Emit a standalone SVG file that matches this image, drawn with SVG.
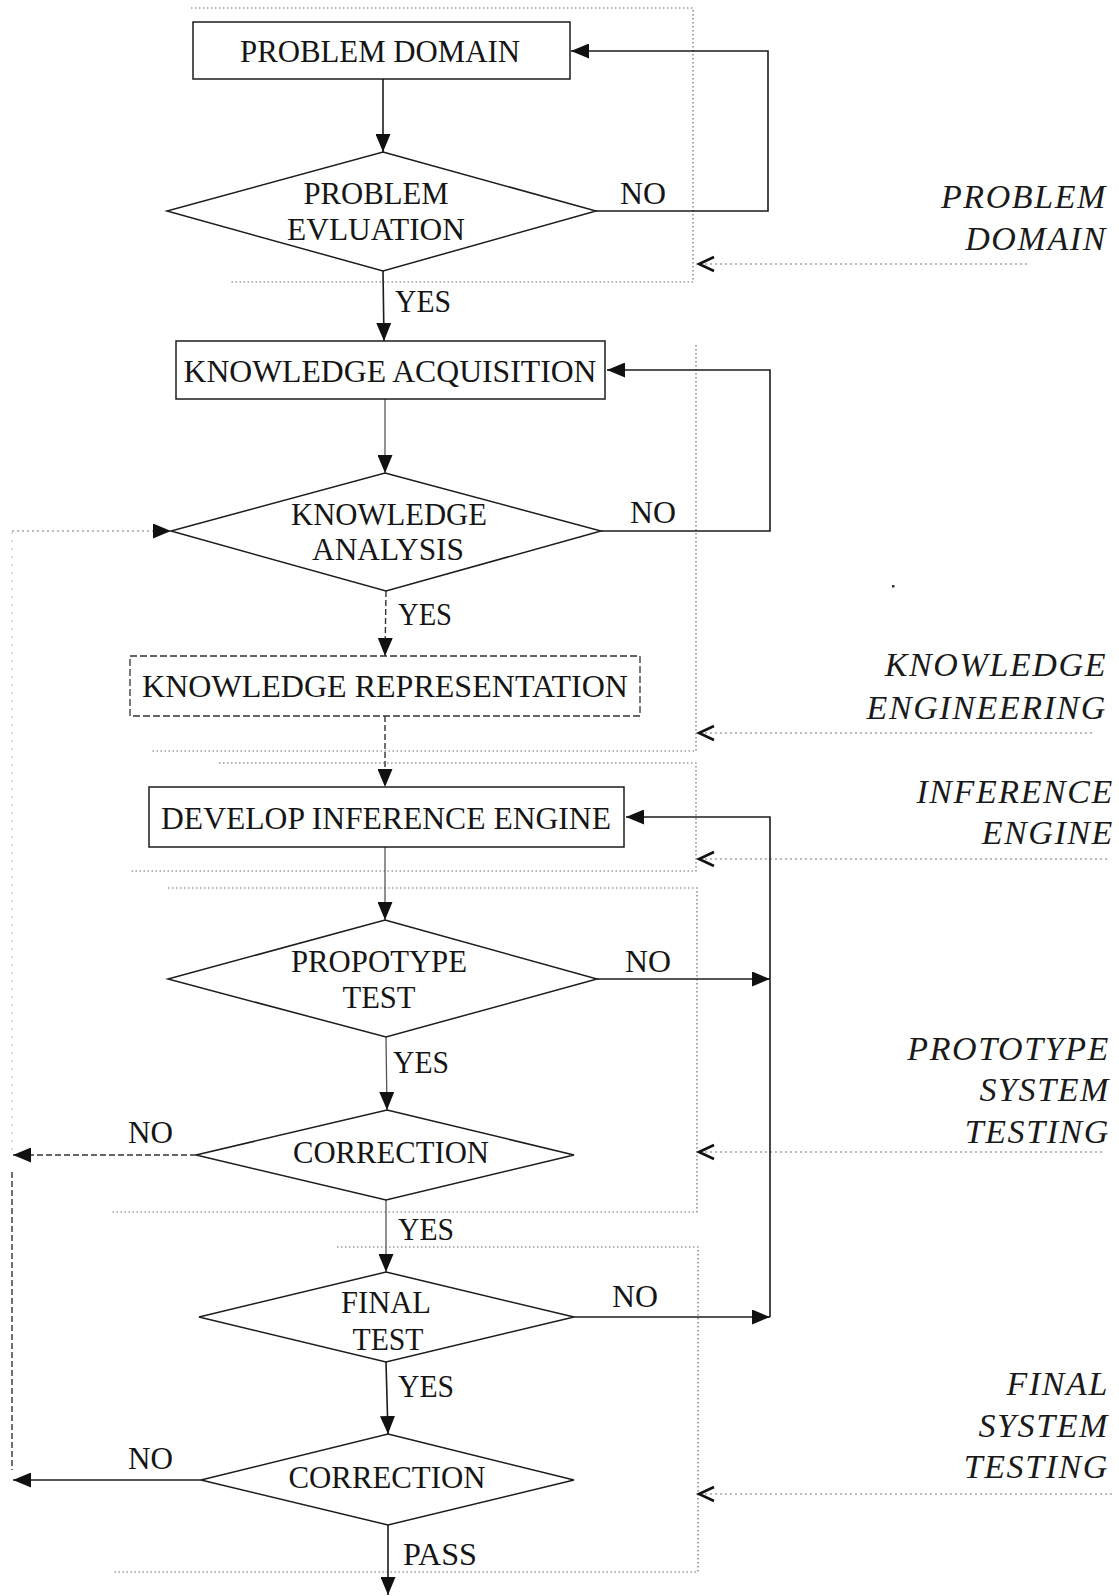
<svg xmlns="http://www.w3.org/2000/svg" width="1119" height="1596" viewBox="0 0 1119 1596">
  <style>
    .lbl { font-family: "Liberation Serif", "Times New Roman", serif; font-size: 32px; fill: #151515; }
    .mid { text-anchor: middle; }
    .stage { font-family: "Liberation Serif", "Times New Roman", serif; font-size: 34px; font-style: italic; fill: #1a1a1a; text-anchor: end; letter-spacing: 1.6px; }
    .shape { fill: #fff; stroke: #1c1c1c; stroke-width: 1.5; }
    .shape-dash { fill: #fff; stroke: #333; stroke-width: 1.3; stroke-dasharray: 7 3; }
    .line { fill: none; stroke: #1c1c1c; stroke-width: 1.6; }
    .line-light { fill: none; stroke: #555; stroke-width: 1.3; }
    .line-dash { fill: none; stroke: #333; stroke-width: 1.4; stroke-dasharray: 6 3; }
    .border { fill: none; stroke: #6a6a6a; stroke-width: 1.2; stroke-dasharray: 1.5 2.5; }
    .pointer { fill: none; stroke: #777; stroke-width: 1.2; stroke-dasharray: 2 3; }
    .faint { fill: none; stroke: #bbb; stroke-width: 1; stroke-dasharray: 2 6; }
    .chev { fill: none; stroke: #111; stroke-width: 2.6; stroke-linejoin: miter; }
  </style>
  <defs>
    <marker id="arrow" markerUnits="userSpaceOnUse" markerWidth="18" markerHeight="15" refX="18" refY="7.5" orient="auto">
      <path d="M0,0 L18,7.5 L0,15 z" fill="#111"/>
    </marker>
  </defs>

  <rect width="1119" height="1596" fill="#fff"/>

  <!-- stage borders (dotted) -->
  <g id="stage-borders">
    <polyline class="border" points="191,8 693,8 693,282 230,282"/>
    <polyline class="border" points="696,345 696,751 151,751"/>
    <polyline class="border" points="219,763 696,763 696,871 130,871"/>
    <polyline class="border" points="168,888 697,888 697,1212 112,1212"/>
    <polyline class="border" points="337,1247 698,1247 698,1572 112,1572"/>
  </g>

  <!-- stage pointers from the right-hand captions -->
  <g id="stage-pointers">
    <line class="pointer" x1="700" y1="264" x2="1030" y2="264"/>
    <polyline class="chev" points="714,257 699,264 714,271"/>
    <line class="pointer" x1="700" y1="733" x2="1093" y2="733"/>
    <polyline class="chev" points="714,726 699,733 714,740"/>
    <line class="pointer" x1="700" y1="859" x2="1107" y2="859"/>
    <polyline class="chev" points="714,852 699,859 714,866"/>
    <line class="pointer" x1="700" y1="1152" x2="1103" y2="1152"/>
    <polyline class="chev" points="714,1145 699,1152 714,1159"/>
    <line class="pointer" x1="700" y1="1494" x2="1112" y2="1494"/>
    <polyline class="chev" points="714,1487 699,1494 714,1501"/>
  </g>

  <!-- connectors -->
  <g id="connectors">
    <line class="line" x1="383" y1="79" x2="383" y2="152" marker-end="url(#arrow)"/>
    <polyline class="line" points="596,211 768,211 768,51 571,51" marker-end="url(#arrow)"/>
    <line class="line" x1="383" y1="271" x2="384" y2="341" marker-end="url(#arrow)"/>
    <line class="line-light" x1="385" y1="399" x2="385" y2="473" marker-end="url(#arrow)"/>
    <polyline class="line" points="601,531 770,531 770,370 607,370" marker-end="url(#arrow)"/>
    <line class="faint" x1="12" y1="1150" x2="12" y2="531"/>
    <line class="pointer" x1="12" y1="531" x2="171" y2="531" marker-end="url(#arrow)"/>
    <line class="line-dash" x1="12" y1="1172" x2="12" y2="1470" stroke="#444"/>
    <line class="line-dash" x1="386" y1="591" x2="385" y2="656" marker-end="url(#arrow)"/>
    <line class="line-dash" x1="385" y1="716" x2="385" y2="787" marker-end="url(#arrow)"/>
    <line class="line-light" x1="385" y1="847" x2="385" y2="920" marker-end="url(#arrow)"/>
    <line class="line" x1="597" y1="979" x2="770" y2="979" marker-end="url(#arrow)"/>
    <polyline class="line" points="770,1317 770,817 626,817" marker-end="url(#arrow)"/>
    <line class="line-light" x1="386" y1="1037" x2="387" y2="1110" marker-end="url(#arrow)"/>
    <line class="line-dash" x1="196" y1="1155" x2="13" y2="1155" marker-end="url(#arrow)"/>
    <line class="line-light" x1="386" y1="1200" x2="386" y2="1272" marker-end="url(#arrow)"/>
    <line class="line" x1="574" y1="1317" x2="770" y2="1317" marker-end="url(#arrow)"/>
    <line class="line" x1="386" y1="1362" x2="388" y2="1434" marker-end="url(#arrow)"/>
    <line class="line" x1="201" y1="1480" x2="13" y2="1480" marker-end="url(#arrow)"/>
    <line class="line" x1="388" y1="1525" x2="388" y2="1595" marker-end="url(#arrow)"/>
  </g>

  <!-- connector labels -->
  <g id="connector-labels" class="lbl">
    <text x="620" y="204" textLength="46" lengthAdjust="spacingAndGlyphs">NO</text>
    <text x="395" y="312" textLength="56" lengthAdjust="spacingAndGlyphs">YES</text>
    <text x="630" y="523" textLength="46" lengthAdjust="spacingAndGlyphs">NO</text>
    <text x="398" y="625" textLength="54" lengthAdjust="spacingAndGlyphs">YES</text>
    <text x="625" y="972" textLength="46" lengthAdjust="spacingAndGlyphs">NO</text>
    <text x="393" y="1073" textLength="56" lengthAdjust="spacingAndGlyphs">YES</text>
    <text x="128" y="1143" textLength="45" lengthAdjust="spacingAndGlyphs">NO</text>
    <text x="398" y="1240" textLength="56" lengthAdjust="spacingAndGlyphs">YES</text>
    <text x="612" y="1307" textLength="46" lengthAdjust="spacingAndGlyphs">NO</text>
    <text x="398" y="1397" textLength="56" lengthAdjust="spacingAndGlyphs">YES</text>
    <text x="128" y="1469" textLength="45" lengthAdjust="spacingAndGlyphs">NO</text>
    <text x="403" y="1565" textLength="74" lengthAdjust="spacingAndGlyphs">PASS</text>
  </g>

  <!-- process nodes -->
  <g id="problem-domain">
    <rect class="shape" x="193" y="22" width="377" height="57"/>
    <text class="lbl mid" x="380" y="62" textLength="280" lengthAdjust="spacingAndGlyphs">PROBLEM DOMAIN</text>
  </g>
  <g id="problem-evaluation">
    <polygon class="shape" points="383,152 596,211 383,271 167,211"/>
    <text class="lbl mid" x="376" y="204" textLength="145" lengthAdjust="spacingAndGlyphs">PROBLEM</text>
    <text class="lbl mid" x="376" y="240" textLength="178" lengthAdjust="spacingAndGlyphs">EVLUATION</text>
  </g>
  <g id="knowledge-acquisition">
    <rect class="shape" x="176" y="341" width="429" height="58" stroke="#333"/>
    <text class="lbl mid" x="390" y="382" textLength="413" lengthAdjust="spacingAndGlyphs">KNOWLEDGE ACQUISITION</text>
  </g>
  <g id="knowledge-analysis">
    <polygon class="shape" points="385,473 601,531 386,591 171,531" stroke="#333"/>
    <text class="lbl mid" x="389" y="525" textLength="196" lengthAdjust="spacingAndGlyphs">KNOWLEDGE</text>
    <text class="lbl mid" x="388" y="560" textLength="152" lengthAdjust="spacingAndGlyphs">ANALYSIS</text>
  </g>
  <g id="knowledge-representation">
    <rect class="shape-dash" x="130" y="656" width="510" height="60"/>
    <text class="lbl mid" x="385" y="697" textLength="486" lengthAdjust="spacingAndGlyphs">KNOWLEDGE REPRESENTATION</text>
  </g>
  <g id="develop-inference-engine">
    <rect class="shape" x="149" y="787" width="475" height="60" stroke="#333"/>
    <text class="lbl mid" x="386" y="829" textLength="450" lengthAdjust="spacingAndGlyphs">DEVELOP INFERENCE ENGINE</text>
  </g>
  <g id="prototype-test">
    <polygon class="shape" points="385,920 597,979 386,1037 168,979"/>
    <text class="lbl mid" x="379" y="972" textLength="176" lengthAdjust="spacingAndGlyphs">PROPOTYPE</text>
    <text class="lbl mid" x="379" y="1008" textLength="73" lengthAdjust="spacingAndGlyphs">TEST</text>
  </g>
  <g id="correction-1">
    <polygon class="shape" points="387,1110 574,1155 386,1200 196,1155"/>
    <text class="lbl mid" x="391" y="1163" textLength="196" lengthAdjust="spacingAndGlyphs">CORRECTION</text>
  </g>
  <g id="final-test">
    <polygon class="shape" points="386,1272 574,1317 386,1362 199,1317"/>
    <text class="lbl mid" x="386" y="1313" textLength="90" lengthAdjust="spacingAndGlyphs">FINAL</text>
    <text class="lbl mid" x="388" y="1350" textLength="71" lengthAdjust="spacingAndGlyphs">TEST</text>
  </g>
  <g id="correction-2">
    <polygon class="shape" points="388,1434 574,1480 388,1525 201,1480"/>
    <text class="lbl mid" x="387" y="1488" textLength="197" lengthAdjust="spacingAndGlyphs">CORRECTION</text>
  </g>

  <!-- stage captions -->
  <g id="stage-captions" class="stage">
    <text x="1107" y="208">PROBLEM</text>
    <text x="1107" y="250">DOMAIN</text>
    <text x="1107" y="676">KNOWLEDGE</text>
    <text x="1107" y="719">ENGINEERING</text>
    <text x="1114" y="803">INFERENCE</text>
    <text x="1114" y="844">ENGINE</text>
    <text x="1110" y="1060">PROTOTYPE</text>
    <text x="1110" y="1101">SYSTEM</text>
    <text x="1110" y="1143">TESTING</text>
    <text x="1109" y="1395">FINAL</text>
    <text x="1109" y="1437">SYSTEM</text>
    <text x="1109" y="1478">TESTING</text>
  </g>

  <rect x="892" y="585" width="2.5" height="2.5" fill="#333"/>
</svg>
